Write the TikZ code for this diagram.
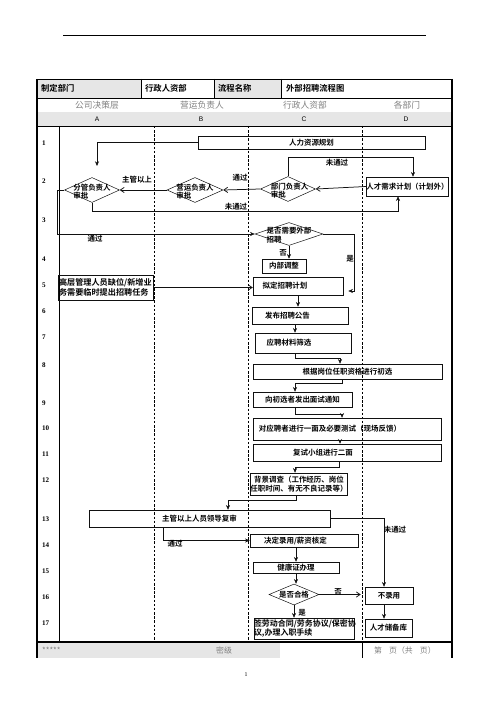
\documentclass[tikz,border=0pt]{standalone}
\usepackage{fontspec}
\usepackage{tikz}
\usetikzlibrary{shapes.geometric, arrows.meta, positioning, calc}
\setmainfont{Noto Sans CJK SC}[BoldFont=Noto Sans CJK SC Bold]
\newfontfamily\numfont{Liberation Serif}
\newfontfamily\latinsans{Liberation Sans}
\definecolor{CellGray}{HTML}{E6E6E6}
\definecolor{LaneGray}{HTML}{808080}
\definecolor{InkBlack}{HTML}{111111}
\newlength{\unitpx}
\setlength{\unitpx}{0.0423cm}
\newcommand{\boxfont}{\fontsize{9}{10.5}\selectfont\bfseries}

\tikzset{
  procbox/.style={rectangle, draw=InkBlack, line width=0.6pt, inner sep=0pt,
                  font=\boxfont, align=center},
  decision/.style={diamond, draw=InkBlack, line width=0.6pt, inner sep=0pt},
  dtext/.style={font=\boxfont, align=left, inner sep=0pt},
  flow/.style={draw=InkBlack, line width=0.6pt, -{Stealth[length=2mm,width=1.7mm]}},
  barbflow/.style={draw=InkBlack, line width=0.9pt, -{Straight Barb[length=1.6mm,width=2.2mm]}},
  flowlabel/.style={font=\boxfont, inner sep=1pt},
  lanedash/.style={line width=0.6pt, dash pattern=on 3pt off 2pt},
  rownum/.style={font=\numfont\bfseries\fontsize{8.5}{10}\selectfont, anchor=west, inner sep=0pt},
  headtext/.style={font=\bfseries\fontsize{10}{12}\selectfont, anchor=west, inner sep=0pt},
  lanetitle/.style={font=\fontsize{10.5}{12}\selectfont, text=LaneGray, inner sep=0pt},
  colletter/.style={font=\latinsans\fontsize{8}{10}\selectfont, inner sep=0pt},
  foottext/.style={font=\fontsize{9.5}{11}\selectfont, text=LaneGray, inner sep=0pt},
}

\begin{document}
\begin{tikzpicture}[x=0.0423cm, y=-0.0423cm]
    \useasboundingbox (0,0) rectangle (496,702);

    % Page rule and table frame
    \draw[line width=0.6pt] (63,35) -- (426,35);
    \fill[CellGray] (37,79) rectangle (141,98);
    \fill[CellGray] (214,79) rectangle (281,98);
    \fill[CellGray] (37,112) rectangle (452,126);
    \fill[CellGray] (37,642) rectangle (280,658);
    \draw[line width=0.8pt] (37,79) -- (452,79);
    \draw[line width=0.6pt] (37,98) -- (452,98);
    \draw[line width=0.6pt] (37,126) -- (452,126);
    \draw[line width=1.6pt] (37,642) -- (452,642);
    \foreach \x in {141,214,281} \draw[line width=0.6pt] (\x,79) -- (\x,98);
    \draw[line width=2pt] (37,79) -- (37,658);
    \draw[line width=2pt] (452,79) -- (452,658);
    \draw[line width=0.6pt] (59,126) -- (59,642);
    \foreach \x in {154,248,362} \draw[lanedash] (\x,126) -- (\x,642);
    \draw[line width=0.6pt] (362,642) -- (362,658);

    % Header texts
    \node[headtext] (hdept) at (41,88.5) {制定部门};
    \node[headtext] (hdeptval) at (145,88.5) {行政人资部};
    \node[headtext] (hname) at (218,88.5) {流程名称};
    \node[headtext] (hnameval) at (286,88.5) {外部招聘流程图};
    \node[lanetitle] (laneA) at (97,105) {公司决策层};
    \node[lanetitle] (laneB) at (202,105) {营运负责人};
    \node[lanetitle] (laneC) at (305,105) {行政人资部};
    \node[lanetitle] (laneD) at (407,105) {各部门};
    \foreach \c/\x in {A/97, B/201, C/304, D/406}
        \node[colletter] (col\c) at (\x,119) {\c};

    % Row numbers
    \foreach \n/\y in {1/143, 2/181, 3/220, 4/259, 5/285, 6/311, 7/337, 8/365, 9/403,
                       10/428, 11/454, 12/480, 13/519, 14/545, 15/571, 16/597, 17/623}
        \node[rownum] (row\n) at (42,\y) {\n};

    % Planning and approval
    \node[procbox, minimum width=227\unitpx, minimum height=13\unitpx] (hrplan) at (311.5,142.5) {人力资源规划};
    \node[decision, minimum width=55\unitpx, minimum height=25\unitpx,
          label={[dtext, yshift=-2pt]center:{分管负责人\\审批}}] (fgsp) at (92,190) {};
    \node[decision, minimum width=56\unitpx, minimum height=25\unitpx,
          label={[dtext, yshift=-2pt]center:{营运负责人\\审批}}] (yysp) at (195,190) {};
    \node[decision, minimum width=55\unitpx, minimum height=25\unitpx,
          label={[dtext, yshift=-2pt, xshift=2pt]center:{部门负责人\\审批}}] (bmsp) at (288,189) {};
    \node[procbox, minimum width=81\unitpx, minimum height=19\unitpx] (xqjh) at (407.5,186.5) {人才需求计划（计划外）};
    \node[decision, minimum width=68\unitpx, minimum height=23\unitpx,
          label={[dtext, yshift=-1pt]center:{是否需要外部\\招聘}}] (wbzp) at (289,234) {};
    \node[procbox, minimum width=44\unitpx, minimum height=14\unitpx] (nbtz) at (284,266) {内部调整};
    \node[procbox, minimum height=25\unitpx, text width=93\unitpx, inner xsep=1\unitpx, align=left,
          font=\fontsize{9.8}{11.5}\selectfont\bfseries] (gcqw) at (105.5,287.5) {高层管理人员缺位/新增业\\务需要临时提出招聘任务};

    % Recruitment steps
    \node[procbox, minimum width=90\unitpx, minimum height=18\unitpx] (ndjh) at (298,286) {拟定招聘计划\hspace*{26\unitpx}};
    \node[procbox, minimum width=96\unitpx, minimum height=17\unitpx] (fbgg) at (300,315.5) {发布招聘公告\hspace*{25\unitpx}};
    \node[procbox, minimum width=96\unitpx, minimum height=20\unitpx] (sxcl) at (303,343) {应聘材料筛选\hspace*{28\unitpx}};
    \node[procbox, minimum width=189\unitpx, minimum height=15\unitpx] (cx) at (347.5,371.5) {根据岗位任职资格进行初选};
    \node[procbox, minimum width=99\unitpx, minimum height=15\unitpx] (mstz) at (302.5,399.5) {向初选者发出面试通知};
    \node[procbox, minimum width=188\unitpx, minimum height=22\unitpx] (ym) at (347,429) {对应聘者进行一面及必要测试（现场反馈）\hspace*{34\unitpx}};
    \node[procbox, minimum width=188\unitpx, minimum height=17\unitpx] (em) at (347,452.5) {复试小组进行二面\hspace*{48\unitpx}};
    \node[procbox, minimum width=92\unitpx, minimum height=22\unitpx] (bjdc) at (299,484) {背景调查（工作经历、岗位\\任职时间、有无不良记录等）};
    \node[procbox, minimum width=241\unitpx, minimum height=17\unitpx] (fs) at (209.5,518.5) {主管以上人员领导复审\hspace*{20\unitpx}};
    \node[procbox, minimum width=108\unitpx, minimum height=13\unitpx] (lyhd) at (304,540.5) {决定录用/薪资核定\hspace*{17\unitpx}};
    \node[procbox, minimum width=86\unitpx, minimum height=11\unitpx] (jkz) at (296,567.5) {健康证办理};
    \node[decision, minimum width=50\unitpx, minimum height=21\unitpx,
          label={[dtext]center:是否合格}] (hg) at (294,594.5) {};
    \node[procbox, minimum width=48\unitpx, minimum height=17\unitpx] (bly) at (389,595.5) {不录用};
    \node[procbox, minimum width=47\unitpx, minimum height=18\unitpx] (rcck) at (388.5,628) {人才储备库};
    \node[procbox, minimum height=21\unitpx, text width=100\unitpx, inner xsep=0pt, align=left,
          font=\fontsize{9.6}{10}\selectfont\bfseries] (qht) at (304,628.5) {签劳动合同/劳务协议/保密协\\议,办理入职手续};

    % Connectors
    \coordinate (fgtop) at (97,166);
    \draw[flow] (hrplan.west) -| (fgtop);
    \draw[barbflow] (yysp.west) -- (fgsp.east);
    \draw[barbflow] (bmsp.west) -- (yysp.east);
    \draw[barbflow] (xqjh.west) -- (bmsp.east);
    \draw[flow] (bmsp.north) -- ++(0,-19) -| ([xshift=5.5\unitpx]xqjh.north);
    \draw[flow] (fgsp.south) -- ++(0,8) -| ([xshift=-9.5\unitpx]xqjh.south);
    \draw[flow] (fgsp.west) -- ++(-7,0) |- (wbzp.west);
    \draw[flow] (wbzp.south) -- (wbzp.south |- nbtz.north);
    \draw[flow] (wbzp.east) -- ++(31,0) |- ([xshift=5\unitpx, yshift=-5\unitpx]ndjh.east);
    \draw[barbflow] (gcqw.east) -- (gcqw.east -| ndjh.west);
    \draw[flow] (ndjh.south) -- (ndjh.south |- fbgg.north);
    \draw[flow] ([xshift=-5\unitpx]fbgg.south) -- ([xshift=-5\unitpx]fbgg.south |- sxcl.north);
    \draw[flow] ([xshift=-8\unitpx]sxcl.south) -- ++(0,5) -| ([xshift=-7.5\unitpx]cx.north);
    \draw[flow] ([xshift=-5.5\unitpx]cx.south) -- ++(0,4) -| ([xshift=-7.5\unitpx]mstz.north);
    \draw[flow] ([xshift=-7.5\unitpx]mstz.south) -- ++(0,7) -| ([xshift=-5\unitpx]ym.north);
    \draw[flow] ([xshift=-7\unitpx]ym.south) -- ([xshift=-7\unitpx]ym.south |- em.north);
    \draw[flow] ([xshift=-8\unitpx]em.south) -- ++(0,6) -| ([xshift=-4\unitpx]bjdc.north);
    \draw[flow] ([xshift=-3\unitpx]bjdc.south) -- ++(0,5) -| ([xshift=18.5\unitpx]fs.north);
    \draw[flow] ([xshift=-46.5\unitpx]fs.south) |- (lyhd.west);
    \draw[flow] (fs.east) -| ([xshift=-5\unitpx]bly.north);
    \draw[flow] ([xshift=-8\unitpx]lyhd.south) -- ([xshift=-8\unitpx]lyhd.south |- jkz.north);
    \draw[flow] (jkz.south) -- (jkz.south |- hg.north);
    \draw[barbflow, shorten >=4\unitpx] (hg.east) -- (hg.east -| bly.west);
    \draw[flow] ([xshift=-5\unitpx]bly.south) -- ([xshift=-5\unitpx]bly.south |- rcck.north);
    \draw[flow] (hg.south) -- (hg.south |- qht.north);

    % Connector labels
    \node[flowlabel] (lbzg) at (137,180) {主管以上};
    \node[flowlabel] (lbtg1) at (240,178) {通过};
    \node[flowlabel] (lbwtg1) at (337,163) {未通过};
    \node[flowlabel] (lbwtg2) at (236,207) {未通过};
    \node[flowlabel] (lbtg2) at (95,239) {通过};
    \node[flowlabel] (lbfou1) at (283,253) {否};
    \node[flowlabel] (lbshi1) at (350,259) {是};
    \node[flowlabel] (lbtg3) at (175,544) {通过};
    \node[flowlabel] (lbwtg3) at (395,530) {未通过};
    \node[flowlabel] (lbfou2) at (338,592) {否};
    \node[flowlabel] (lbshi2) at (302,613) {是};

    % Footer
    \node[foottext, anchor=west] (fstar) at (42,650) {*****};
    \node[foottext] (flevel) at (224,650) {密级};
    \node[foottext] (fpage) at (405,650) {第\hspace{0.9em}页（共\hspace{0.9em}页）};
    \node[font=\numfont\fontsize{7}{8}\selectfont, inner sep=0pt] (pageno) at (246,675) {1};
\end{tikzpicture}
\end{document}
